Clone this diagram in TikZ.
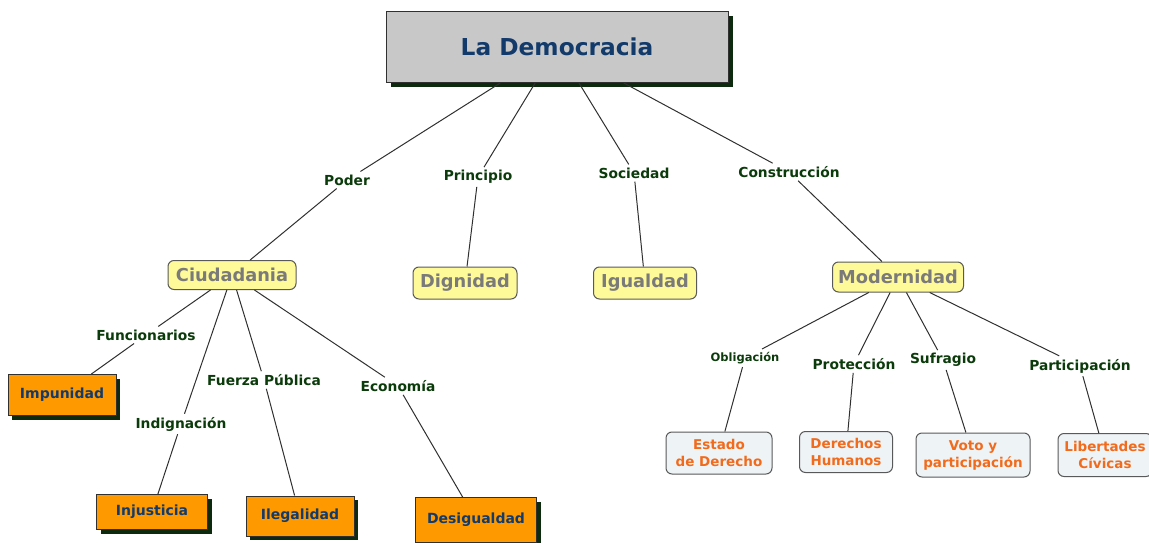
\documentclass[tikz,border=0pt]{standalone}
\usepackage{fontspec}
\setmainfont{DejaVu Sans}
\usetikzlibrary{shadows}
\definecolor{dgreen}{HTML}{0B3A0B}
\definecolor{shadowgreen}{HTML}{0E2A0E}
\definecolor{navy}{HTML}{123A6A}
\definecolor{topgray}{HTML}{C8C8C8}
\definecolor{yel}{HTML}{FFFA99}
\definecolor{orangebox}{HTML}{FF9900}
\definecolor{bluebox}{HTML}{EEF3F6}
\definecolor{orangetext}{HTML}{F26A1B}
\definecolor{graytext}{HTML}{7A7A7A}
\definecolor{linecol}{HTML}{303030}
\tikzset{
  topbox/.style={draw=linecol, line width=1pt, fill=topgray, minimum width=342pt, minimum height=71pt,
    font=\fontsize{23.3}{26}\selectfont\bfseries, text=navy,
    drop shadow={shadow xshift=5pt, shadow yshift=-5pt, fill=shadowgreen, opacity=1}},
  yelbox/.style={draw=linecol!80, line width=1pt, fill=yel, rounded corners=6pt,
    font=\fontsize{17.8}{20}\selectfont\bfseries, text=graytext},
  orbox/.style={draw=linecol, line width=1pt, fill=orangebox,
    font=\fontsize{14}{16}\selectfont\bfseries, text=navy,
    drop shadow={shadow xshift=4pt, shadow yshift=-4pt, fill=shadowgreen, opacity=1}},
  blbox/.style={draw=linecol!80, line width=1pt, fill=bluebox, rounded corners=6pt, align=center,
    font=\fontsize{13.5}{17}\selectfont\bfseries, text=orangetext},
  lbl/.style={font=\fontsize{13.8}{15}\selectfont\bfseries, text=dgreen, inner sep=3pt},
  slbl/.style={font=\fontsize{11.5}{13}\selectfont\bfseries, text=dgreen, inner sep=3pt},
  conn/.style={draw=linecol, line width=1pt},
}
\begin{document}
\begin{tikzpicture}[x=1pt,y=-1pt]
\useasboundingbox (0,0) rectangle (1149,543);
% main nodes
\node[topbox] (top) at (557,47) {La Democracia};
\node[yelbox, minimum width=128pt, minimum height=29pt] (ciu) at (232,275) {Ciudadania};
\node[yelbox, minimum width=104pt, minimum height=32pt] (dig) at (465,283) {Dignidad};
\node[yelbox, minimum width=103pt, minimum height=32pt] (igu) at (645,283) {Igualdad};
\node[yelbox, minimum width=131pt, minimum height=30pt] (mod) at (898,277) {Modernidad};
\node[orbox, minimum width=108pt, minimum height=41pt] (imp) at (62,395) {Impunidad};
\node[orbox, minimum width=111pt, minimum height=35pt] (inj) at (152,512) {Injusticia};
\node[orbox, minimum width=108pt, minimum height=40pt] (ile) at (300,516) {Ilegalidad};
\node[orbox, minimum width=121pt, minimum height=45pt] (des) at (476,520) {Desigualdad};
\node[blbox, minimum width=106pt, minimum height=42pt] (est) at (719,453) {Estado\\de Derecho};
\node[blbox, minimum width=93pt, minimum height=41pt] (dh) at (846,452) {Derechos\\Humanos};
\node[blbox, minimum width=114pt, minimum height=44pt] (voto) at (973,455) {Voto y\\participación};
\node[blbox, minimum width=94pt, minimum height=43pt] (lib) at (1105,455) {Libertades\\Cívicas};
% labels
\node[lbl] (poder) at (347,180) {Poder};
\node[lbl] (prin) at (478,177) {Principio};
\node[lbl] (soc) at (634,173) {Sociedad};
\node[lbl] (cons) at (789,172) {Construcción};
\node[lbl] (func) at (146,335) {Funcionarios};
\node[lbl] (indig) at (181,424) {Indignación};
\node[lbl] (fuer) at (264,380) {Fuerza Pública};
\node[lbl] (eco) at (398,386) {Economía};
\node[slbl] (obl) at (745,358) {Obligación};
\node[lbl] (prot) at (854,364) {Protección};
\node[lbl] (suf) at (943,360) {Sufragio};
\node[lbl] (part) at (1080,366) {Participación};
% connectors
\draw[conn] (top) -- (poder);
\draw[conn] (poder) -- (ciu);
\draw[conn] (top) -- (prin);
\draw[conn] (prin) -- (dig);
\draw[conn] (top) -- (soc);
\draw[conn] (soc) -- (igu);
\draw[conn] (top) -- (cons);
\draw[conn] (cons) -- (mod);
\draw[conn] (ciu) -- (func);
\draw[conn] (func) -- (imp);
\draw[conn] (ciu) -- (indig);
\draw[conn] (indig) -- (inj);
\draw[conn] (ciu) -- (fuer);
\draw[conn] (fuer) -- (ile);
\draw[conn] (ciu) -- (eco);
\draw[conn] (eco) -- (des);
\draw[conn] (mod) -- (obl);
\draw[conn] (obl) -- (est);
\draw[conn] (mod) -- (prot);
\draw[conn] (prot) -- (dh);
\draw[conn] (mod) -- (suf);
\draw[conn] (suf) -- (voto);
\draw[conn] (mod) -- (part);
\draw[conn] (part) -- (lib);
\end{tikzpicture}
\end{document}
